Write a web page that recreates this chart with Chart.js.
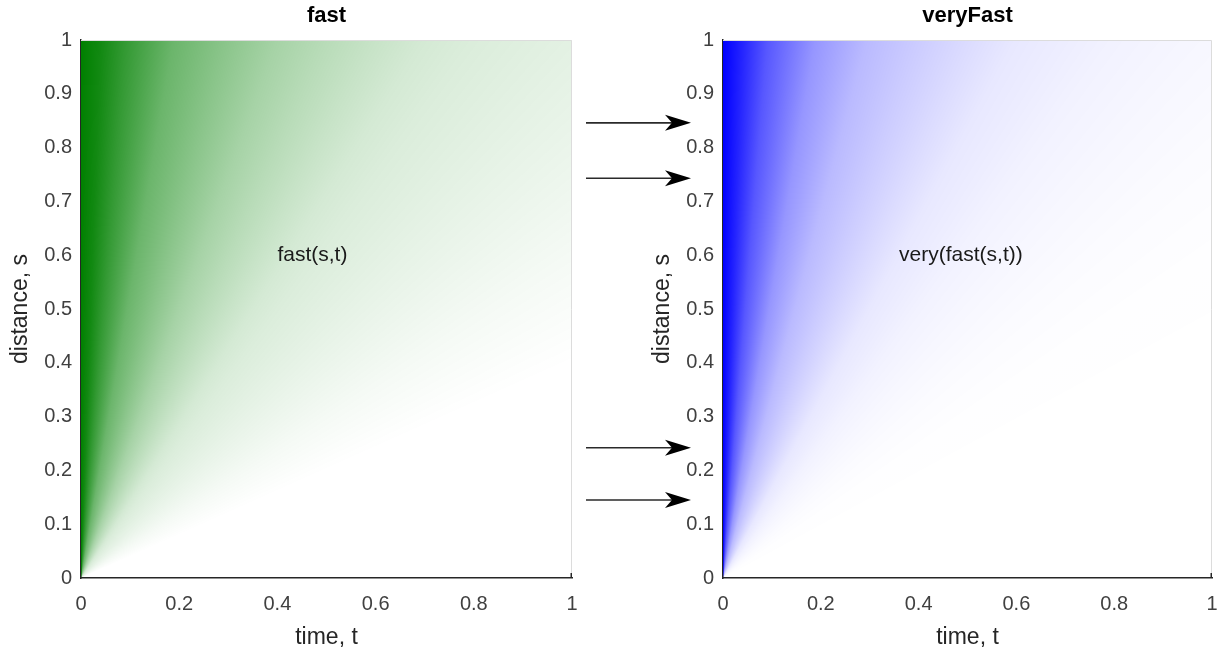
<!DOCTYPE html>
<html><head><meta charset="utf-8">
<script src="https://cdn.jsdelivr.net/npm/chart.js@4.4.1/dist/chart.umd.min.js"></script>
<style>
html,body{margin:0;padding:0;background:#fff;width:1220px;height:652px;overflow:hidden;position:relative}
#left{position:absolute;left:0;top:0;width:600px;height:652px}
#right{position:absolute;left:642px;top:0;width:600px;height:652px}
#arrows{position:absolute;left:0;top:0;pointer-events:none}
</style></head><body>
<div id="left"><canvas id="c1"></canvas></div>
<div id="right"><canvas id="c2"></canvas></div>
<svg id="arrows" width="1220" height="652"></svg>
<script>
// ---- data ----
const tTicks = [0, 0.2, 0.4, 0.6, 0.8, 1];
const sTicks = [0, 0.1, 0.2, 0.3, 0.4, 0.5, 0.6, 0.7, 0.8, 0.9, 1];
const tRange = [0, 1];
const sRange = [0, 1];
// speed v = s/t breakpoints and membership degrees
const speedBreaks    = [0.4, 0.6,  0.8,  1.0,  1.25, 1.43, 1.67, 2.0,  2.5,  3.4,  5.3,  11,   25,   Infinity];
const fastValues     = [0,   0.04, 0.08, 0.11, 0.14, 0.17, 0.22, 0.28, 0.35, 0.46, 0.58, 0.8,  0.93, 1];
const veryFastValues = [0,   0.005,0.015,0.03, 0.05, 0.07, 0.09, 0.14, 0.2,  0.27, 0.41, 0.66, 0.86, 1];
const panelTitles = ['fast', 'veryFast'];
const annotationTexts = ['fast(s,t)', 'very(fast(s,t))'];
const annotationT = [0.4, 0.36];
const annotationS = [0.6, 0.6];
const arrowS = [0.846, 0.743, 0.242, 0.145];

const FONT = '"Liberation Sans", Arial, Helvetica, sans-serif';

function membershipGradient(chart, values, rgb) {
  const {chartArea, scales} = chart;
  if (!chartArea) return 'rgba(0,0,0,0)';
  const x0 = scales.x.getPixelForValue(0), y0 = scales.y.getPixelForValue(0);
  const W = scales.x.getPixelForValue(1) - x0;
  const H = y0 - scales.y.getPixelForValue(1);
  const g = chart.ctx.createConicGradient(-Math.PI / 2, x0, y0);
  const stops = speedBreaks.map((v, i) => ({off: Math.atan2(W, v * H) / (2 * Math.PI), a: values[i]}));
  stops.sort((a, b) => a.off - b.off);
  stops.forEach(s => g.addColorStop(s.off, `rgba(${rgb},${s.a})`));
  return g;
}

const framePlugin = {
  id: 'frame',
  afterDraw(chart, args, opts) {
    const {ctx, chartArea: {left, right, top, bottom}, scales: {x, y}} = chart;
    ctx.save();
    ctx.strokeStyle = '#dcdcdc'; ctx.lineWidth = 1;
    ctx.beginPath();
    ctx.moveTo(left, top + 0.5); ctx.lineTo(right - 0.5, top + 0.5); ctx.lineTo(right - 0.5, bottom);
    ctx.stroke();
    // small inward tick at the right end of the t axis
    ctx.strokeStyle = '#262626'; ctx.lineWidth = 1.5;
    ctx.beginPath(); ctx.moveTo(right - 0.75, bottom); ctx.lineTo(right - 0.75, bottom - 5); ctx.stroke();
    ctx.font = '21px ' + FONT; ctx.fillStyle = '#1a1a1a';
    ctx.textBaseline = 'middle'; ctx.textAlign = 'left';
    ctx.fillText(opts.text, x.getPixelForValue(opts.t), y.getPixelForValue(opts.s));
    ctx.restore();
  }
};

function makeChart(id, idx, values, rgb, padRight) {
  return new Chart(document.getElementById(id), {
    type: 'scatter',
    data: {
      datasets: [{
        data: [{x: tRange[0], y: sRange[1]}, {x: tRange[1], y: sRange[1]}],
        showLine: true,
        fill: 'origin',
        borderWidth: 0,
        pointRadius: 0,
        backgroundColor: (c) => membershipGradient(c.chart, values, rgb)
      }]
    },
    options: {
      responsive: true, maintainAspectRatio: false, animation: false,
      layout: {padding: {left: 0, right: padRight, top: 0, bottom: 0}},
      plugins: {
        legend: {display: false}, tooltip: {enabled: false},
        title: {display: true, fullSize: false, text: panelTitles[idx], color: '#000',
                font: {family: FONT, size: 22, weight: 'bold'}, padding: {top: 3, bottom: 10.6}},
        frame: {text: annotationTexts[idx], t: annotationT[idx], s: annotationS[idx]}
      },
      scales: {
        x: {
          type: 'linear', min: tRange[0], max: tRange[1], z: 1,
          afterBuildTicks: (s) => { s.ticks = tTicks.map(v => ({value: v})); },
          afterFit: (s) => { s.height = 74; },
          grid: {display: false, drawTicks: false},
          border: {display: true, color: '#262626', width: 1.5},
          ticks: {color: '#404040', font: {family: FONT, size: 20}, padding: 14, maxRotation: 0,
                  callback: (v) => String(v)},
          title: {display: true, text: 'time, t', color: '#262626', font: {family: FONT, size: 23}, padding: {top: 0, bottom: 1}}
        },
        y: {
          type: 'linear', min: sRange[0], max: sRange[1], z: 1,
          afterBuildTicks: (s) => { s.ticks = sTicks.map(v => ({value: v})); },
          afterFit: (s) => { s.width = 81; },
          grid: {display: false, drawTicks: false},
          border: {display: true, color: '#262626', width: 1.5},
          ticks: {color: '#404040', font: {family: FONT, size: 20}, padding: 9,
                  callback: (v) => String(v)},
          title: {display: true, text: 'distance, s', color: '#262626', font: {family: FONT, size: 23}, padding: {top: 7, bottom: 0}}
        }
      }
    },
    plugins: [framePlugin]
  });
}

const c1 = makeChart('c1', 0, fastValues, '0,128,0', 28);
const c2 = makeChart('c2', 1, veryFastValues, '0,0,255', 30);

// arrows between panels, vertical positions through the right panel's s scale
const svg = document.getElementById('arrows');
const ns = 'http://www.w3.org/2000/svg';
arrowS.forEach(s => {
  const y = c2.scales.y.getPixelForValue(s);
  const line = document.createElementNS(ns, 'line');
  line.setAttribute('x1', 586); line.setAttribute('x2', 674);
  line.setAttribute('y1', y); line.setAttribute('y2', y);
  line.setAttribute('stroke', '#2a2a2a'); line.setAttribute('stroke-width', '1.6');
  svg.appendChild(line);
  const head = document.createElementNS(ns, 'path');
  head.setAttribute('d', `M691,${y} L665,${y - 8} L672,${y} L665,${y + 8} Z`);
  head.setAttribute('fill', '#000');
  svg.appendChild(head);
});
</script>
</body></html>
